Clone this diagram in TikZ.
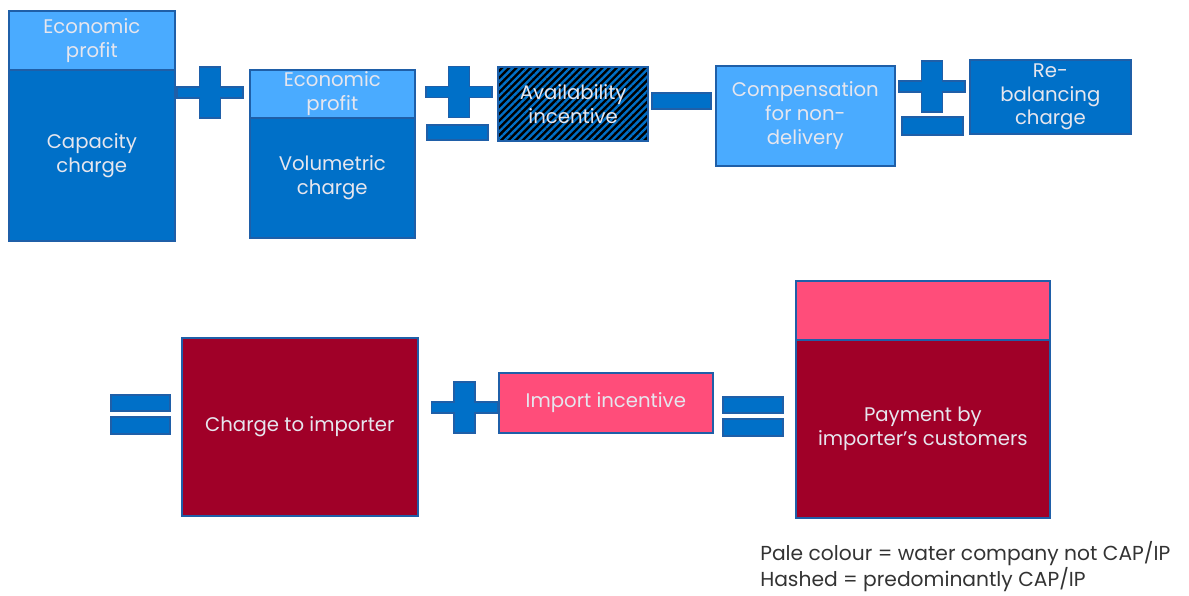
\documentclass[tikz,border=0pt]{standalone}
\usepackage{fontspec}
\setmainfont{Poppins}
\usepackage{tikz}
\usetikzlibrary{patterns.meta}
\definecolor{ChgBlue}{HTML}{0070C8}
\definecolor{ChgPale}{HTML}{4AABFF}
\definecolor{ChgEdge}{HTML}{1F5FA8}
\definecolor{ImpRed}{HTML}{A00028}
\definecolor{ImpPink}{HTML}{FF4D7A}
\definecolor{LabelGrey}{HTML}{E6E6EE}
\definecolor{NoteGrey}{HTML}{333333}

\tikzset{
  blk/.style 2 args={draw=ChgEdge, line width=1.2pt, anchor=north west, inner sep=0pt,
    minimum width=#1*0.025cm, minimum height=#2*0.025cm, text=LabelGrey, align=center},
  sign/.style={fill=ChgBlue, draw=ChgEdge, line width=0.8pt},
  opplus/.pic={
    \path[sign] (-33,-5.5) -- (-10.5,-5.5) -- (-10.5,-25.5) -- (10.5,-25.5) -- (10.5,-5.5)
      -- (33,-5.5) -- (33,5.5) -- (10.5,5.5) -- (10.5,25.5) -- (-10.5,25.5)
      -- (-10.5,5.5) -- (-33,5.5) -- cycle;
  }
}

\begin{document}
\begin{tikzpicture}[x=0.025cm, y=-0.025cm, every node/.style={font=\fontsize{14}{17}\selectfont}]
  \useasboundingbox (0,0) rectangle (1189,595);

  % first row: charges built up by the water company
  \node[blk={166}{59}, fill=ChgPale] (cap-ep) at (8,10) {Economic\\profit};
  \node[blk={166}{171}, fill=ChgBlue] (cap) at (8,69) {Capacity\\charge};
  \pic at (210,92.5) {opplus};
  \node[blk={165}{48}, fill=ChgPale] (vol-ep) at (249,69) {Economic\\profit};
  \node[blk={165}{120}, fill=ChgBlue] (vol) at (249,117) {Volumetric\\charge};
  \pic at (459,92) {opplus};
  \path[sign] (427,125) rectangle (488,140);
  \node[blk={150}{74}, preaction={fill=black},
        pattern={Lines[angle=45, distance=3.6pt, line width=1.7pt]}, pattern color=ChgBlue] (avail) at (497,66) {Availability\\incentive};
  \path[sign] (652,93) rectangle (711,109);
  \node[blk={179}{100}, fill=ChgPale] (comp) at (715,65) {Compensation\\for non-\\delivery};
  \pic at (932,86.5) {opplus};
  \path[sign] (902,117) rectangle (963,135);
  \node[blk={161}{74}, fill=ChgBlue] (rebal) at (969,59) {Re-\\balancing\\charge};

  % second row: what the importer pays
  \path[sign] (111,395) rectangle (170,411);
  \path[sign] (111,417) rectangle (170,434);
  \node[blk={236}{178}, fill=ImpRed] (imp) at (181,337) {Charge to importer};
  \pic at (464.5,407.5) {opplus};
  \node[blk={214}{60}, fill=ImpPink] (inc) at (498,372) {Import incentive};
  \path[sign] (723,397) rectangle (783,413);
  \path[sign] (723,419) rectangle (783,436);
  \node[blk={254}{59}, fill=ImpPink] (pay-inc) at (795,280) {};
  \node[blk={254}{178}, fill=ImpRed] (pay) at (795,339) {Payment by\\importer's customers};

  % key
  \node[anchor=north west, inner sep=0pt, align=left, text=NoteGrey,
        font=\fontsize{14.4}{16.2}\selectfont] (key) at (760,541) {Pale colour = water company not CAP/IP\\Hashed = predominantly CAP/IP};
\end{tikzpicture}
\end{document}
